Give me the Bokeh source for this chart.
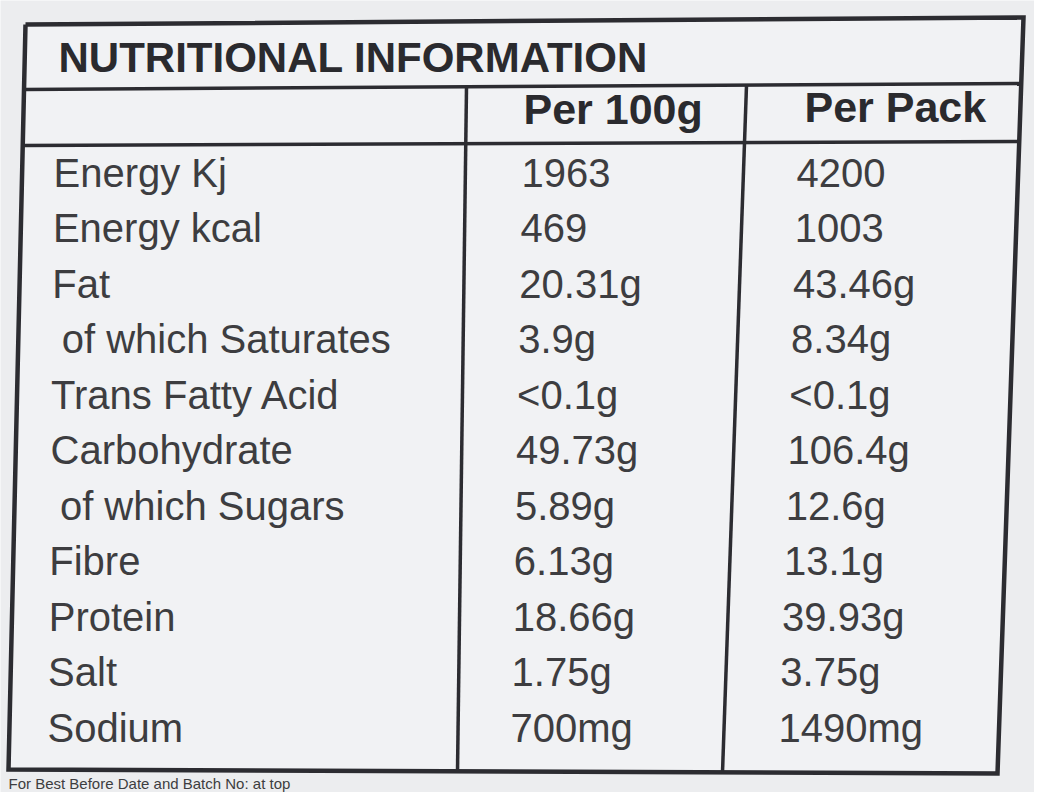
from bokeh.plotting import figure
from bokeh.models import Range1d, ColumnDataSource
from bokeh.embed import file_html
from bokeh.resources import INLINE
from bokeh.core.properties import value

# ---- data ----
title = "NUTRITIONAL INFORMATION"
column_headers = ["Per 100g", "Per Pack"]
nutrients = ["Energy Kj", "Energy kcal", "Fat", "of which Saturates", "Trans Fatty Acid",
             "Carbohydrate", "of which Sugars", "Fibre", "Protein", "Salt", "Sodium"]
per_100g = ["1963", "469", "20.31g", "3.9g", "<0.1g", "49.73g", "5.89g", "6.13g",
            "18.66g", "1.75g", "700mg"]
per_pack = ["4200", "1003", "43.46g", "8.34g", "<0.1g", "106.4g", "12.6g", "13.1g",
            "39.93g", "3.75g", "1490mg"]
footer = "For Best Before Date and Batch No: at top"

# ---- layout (pixel coordinates, y downwards) ----
W, H = 1034, 792
FONT = "Liberation Sans"
BG = "#ecedef"
TABLE_BG = "#f1f2f4"
LINE = "#2c2c31"
TEXT = "#3d3d40"
BASE_K = 0.37  # baseline correction (fraction of font size)

p = figure(width=W, height=H, output_backend="svg", toolbar_location=None,
           x_range=Range1d(0, W), y_range=Range1d(H, 0),
           min_border=0, outline_line_color=None,
           background_fill_color=BG, border_fill_color=BG)
p.xaxis.visible = False
p.yaxis.visible = False
p.grid.visible = False

def by(y, size):
    return y - BASE_K * size

# table corners (slightly skewed like the photo)
TL, TR, BR, BL = (25, 24), (1023, 17), (997, 773), (8, 769)
p.patch([TL[0], TR[0], BR[0], BL[0]], [TL[1], TR[1], BR[1], BL[1]],
        fill_color=TABLE_BG, line_color=None)

def on_left(y):
    return TL[0] + (BL[0] - TL[0]) * (y - TL[1]) / (BL[1] - TL[1])

def on_right(y):
    return TR[0] + (BR[0] - TR[0]) * (y - TR[1]) / (BR[1] - TR[1])

# horizontal rules: (y at left, y at right)
rules = [(89, 83), (145, 141)]
hx0 = [on_left(a) for a, b in rules]
hx1 = [on_right(b) for a, b in rules]
p.segment(x0=hx0, y0=[a for a, b in rules], x1=hx1, y1=[b for a, b in rules],
          line_color=LINE, line_width=3.5)

# column dividers
p.segment(x0=[466, 746], y0=[87, 85], x1=[457, 722], y1=[771, 772],
          line_color=LINE, line_width=3.5)

# outer border
p.line([TL[0], TR[0], BR[0], BL[0], TL[0]], [TL[1], TR[1], BR[1], BL[1], TL[1]],
       line_color=LINE, line_width=4.5, line_join="miter")

# title
p.text(x=[58], y=[by(73, 42)], text=[title], text_font=value(FONT), text_font_size="42px",
       text_font_style="bold", text_color="#2a2a2e", text_baseline="alphabetic")

# column headers
p.text(x=[523, 804], y=[by(124, 43), by(122, 43)], text=column_headers, text_font=value(FONT),
       text_font_size="43px", text_font_style="bold", text_color="#2a2a2e",
       text_baseline="alphabetic")

# rows
n = len(nutrients)
y0, step = 187, 55.5
ys = [by(y0 + i * step, 40) for i in range(n)]
t = [i / (n - 1) for i in range(n)]
lab_x = [53 - 6 * ti + (10 if s.startswith("of which") else 0) for s, ti in zip(nutrients, t)]
c1_x = [521 - 11 * ti for ti in t]
c2_x = [796 - 18 * ti for ti in t]

src = ColumnDataSource(dict(lab_x=lab_x, c1_x=c1_x, c2_x=c2_x, y=ys,
                            nutrient=nutrients, v100=per_100g, vpack=per_pack))
for xcol, tcol in (("lab_x", "nutrient"), ("c1_x", "v100"), ("c2_x", "vpack")):
    p.text(x=xcol, y="y", text=tcol, source=src, text_font=value(FONT),
           text_font_size="40px", text_color=TEXT, text_baseline="alphabetic")

# footer text below the table (kept fully visible)
p.text(x=[8], y=[by(789, 15)], text=[footer], text_font=value(FONT), text_font_size="15px",
       text_color=TEXT, text_baseline="alphabetic")

open("out.html", "w").write(file_html(p, INLINE))
